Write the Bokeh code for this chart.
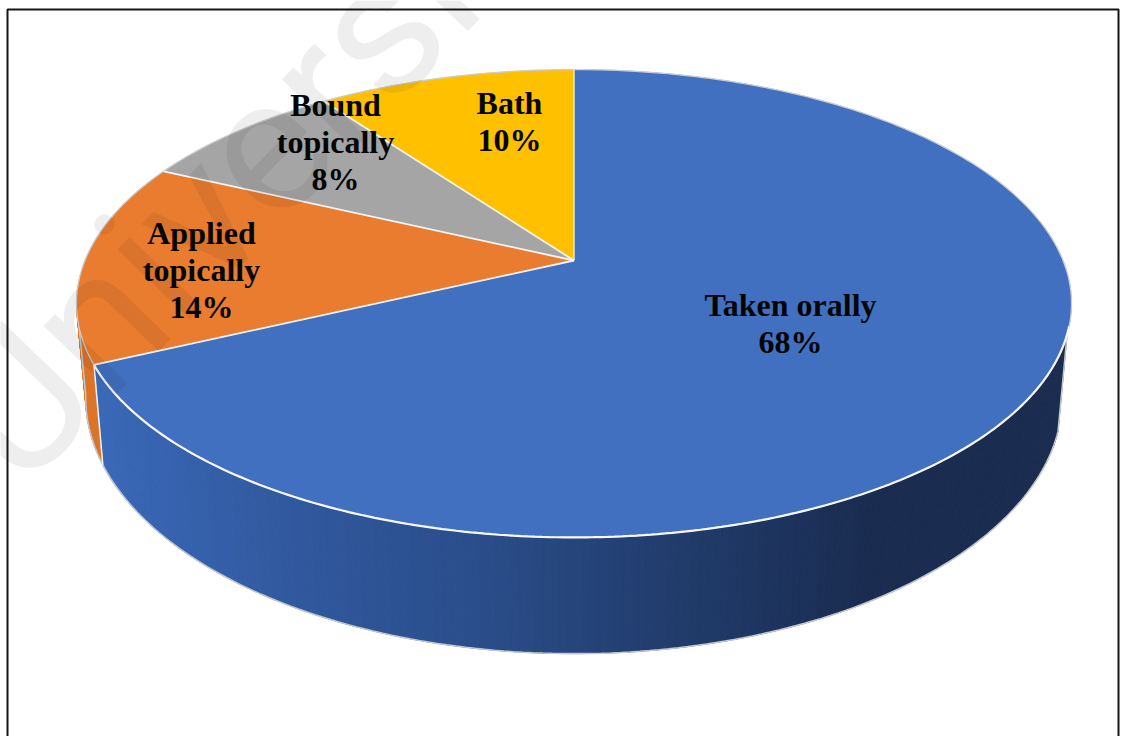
import math
from bokeh.core.properties import value
from bokeh.embed import file_html
from bokeh.models import Range1d
from bokeh.plotting import figure
from bokeh.resources import INLINE

# Shares of each application route, clockwise from twelve o'clock
routes = ["Taken orally", "Applied topically", "Bound topically", "Bath"]
shares = [68, 14, 8, 10]
top_colors = ["#4270C0", "#EA7C30", "#A5A5A5", "#FFC000"]

label_lines = [["Taken orally", "68%"], ["Applied", "topically", "14%"],
               ["Bound", "topically", "8%"], ["Bath", "10%"]]
label_x = [790, 201, 335, 509]
label_y = [304, 232, 104, 102]

WIDTH, HEIGHT = 1123, 736
CX = 573.5
KEEP = 0.1838


def rim(theta, cy, ax, by):
    """Project a point of a tilted disc; theta runs clockwise from the top."""
    xx, yy = math.sin(theta), math.cos(theta)
    w = 1 + KEEP * yy
    return CX + ax * xx / w, cy - by * yy / w


def top_rim(theta):
    return rim(theta, 260, 489, 226)


def bottom_rim(theta):
    return rim(theta, 350, 480, 247.4)


def arc(fn, start, stop, n):
    pts = [fn(start + (stop - start) * i / n) for i in range(n + 1)]
    return [q[0] for q in pts], [q[1] for q in pts]


def lerp_hex(stops, t):
    t = max(0.0, min(1.0, t)) * (len(stops) - 1)
    i = min(int(t), len(stops) - 2)
    f = t - i
    a = [int(stops[i][j:j + 2], 16) for j in (1, 3, 5)]
    b = [int(stops[i + 1][j:j + 2], 16) for j in (1, 3, 5)]
    return "#%02x%02x%02x" % tuple(round(a[j] + (b[j] - a[j]) * f) for j in range(3))


p = figure(width=WIDTH, height=HEIGHT, output_backend="svg", toolbar_location=None,
           x_range=Range1d(0, WIDTH), y_range=Range1d(HEIGHT, 0),
           min_border=0, outline_line_color=None)
p.axis.visible = False
p.grid.visible = False
p.background_fill_color = "white"
p.border_fill_color = "white"

# Slice boundaries in radians
edges = [0.0]
for s in shares:
    edges.append(edges[-1] + s / sum(shares) * 2 * math.pi)

# Side wall: short quads between the upper and lower rim, shaded across the width
blue_wall = ["#3A69B8", "#31599F", "#2A4D8A", "#213C6C", "#1A2C50", "#1A2C50"]
orange_wall = "#DB7429"
wall_start, wall_stop = math.radians(108), math.radians(260)
steps = 200
for i in range(steps):
    a = wall_start + (wall_stop - wall_start) * i / steps
    b = wall_start + (wall_stop - wall_start) * (i + 1) / steps
    ta, tb = top_rim(a), top_rim(b)
    ba, bb = bottom_rim(a), bottom_rim(b)
    color = lerp_hex(blue_wall, (ba[0] - 100) / 960) if a < edges[1] else orange_wall
    p.patch([ta[0], tb[0], bb[0], ba[0]], [ta[1], tb[1], bb[1], ba[1]],
            fill_color=color, line_color=color, line_width=1)

# Pale outline around the wall
xs, ys = arc(bottom_rim, wall_start, wall_stop, 160)
p.line(xs, ys, line_color="#C4C8CE", line_width=1.5)
for th in (wall_start, wall_stop):
    t_end, b_end = top_rim(th), bottom_rim(th)
    p.line([t_end[0], b_end[0]], [t_end[1], b_end[1]], line_color="#C4C8CE", line_width=1.5)

# White seam where the blue wall meets the orange wall
t_seam, b_seam = top_rim(edges[1]), bottom_rim(edges[1])
p.line([t_seam[0], b_seam[0]], [t_seam[1], b_seam[1]], line_color="#F4F4F4", line_width=1.5)

# Top face slices
apex_x, apex_y = top_rim(0)[0], 260
for i, color in enumerate(top_colors):
    xs, ys = arc(top_rim, edges[i], edges[i + 1], 200)
    p.patch([apex_x] + xs, [apex_y] + ys, fill_color=color, line_color=color, line_width=0.5)

# Rim and slice separators
xs, ys = arc(top_rim, 0, 2 * math.pi, 360)
p.line(xs, ys, line_color="#C9CCD0", line_width=1.2)
xs, ys = arc(top_rim, math.radians(106), edges[1], 200)
p.line(xs, ys, line_color="#F7F7F7", line_width=2.2)
for e in edges[1:-1]:
    q = top_rim(e)
    p.line([apex_x, q[0]], [apex_y, q[1]], line_color="#F4F4F4", line_width=1.8)
q = top_rim(0)
p.line([apex_x, q[0]], [apex_y, q[1]], line_color="#F4F4F4", line_width=1.2)

# Faint diagonal stamp across the upper left
p.text([-26], [448], text=["University"], angle=[math.radians(46)],
       text_font=value("Roboto"), text_font_size="190px",
       text_color="#000000", text_alpha=0.065,
       text_align="left", text_baseline="alphabetic")

# Slice labels
LINE_STEP = 37
for lines, x0, y0 in zip(label_lines, label_x, label_y):
    for j, line in enumerate(lines):
        p.text([x0], [y0 + j * LINE_STEP], text=[line],
               text_font=value("Liberation Serif"), text_font_size="32px",
               text_font_style="bold", text_color="#050505",
               text_align="center", text_baseline="middle")

# Frame, open at the bottom edge
p.line([7, 7, 1118, 1118], [HEIGHT, 9, 9, HEIGHT], line_color="#151515", line_width=2)

open("out.html", "w").write(file_html(p, INLINE))
